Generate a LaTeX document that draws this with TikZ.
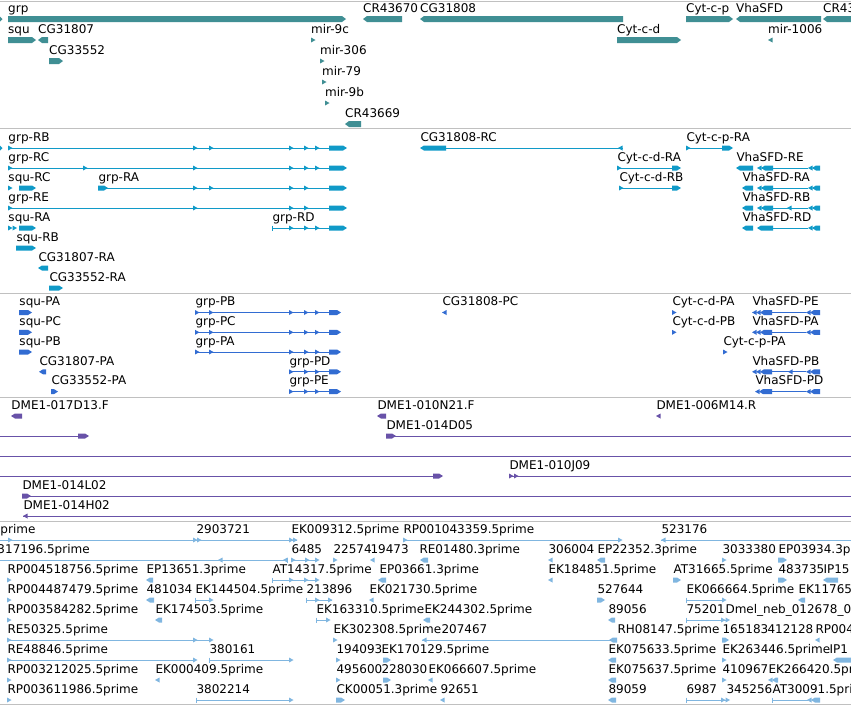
\documentclass[tikz,border=0pt]{standalone}
\usepackage{fontspec}
\setmainfont{DejaVu Sans}
\usepackage{tikz}
\definecolor{genecol}{RGB}{64,143,148}
\definecolor{txcol}{RGB}{16,154,200}
\definecolor{protcol}{RGB}{50,108,210}
\definecolor{clonecol}{RGB}{104,82,168}
\definecolor{estcol}{RGB}{128,182,224}
\definecolor{sepcol}{RGB}{192,192,192}
% feature glyphs: blocks with a tip, small arrows, start ticks
\newcommand{\fblk}[4][2.5]{\fill (#2,#4-#1) -- (#3-4,#4-#1) -- (#3,#4) -- (#3-4,#4+#1) -- (#2,#4+#1) -- cycle;}
\newcommand{\rblk}[4][2.5]{\fill (#2,#4) -- (#2+4,#4-#1) -- (#3,#4-#1) -- (#3,#4+#1) -- (#2+4,#4+#1) -- cycle;}
\newcommand{\ftri}[2]{\fill (#1,#2-2.5) -- (#1+4.5,#2) -- (#1,#2+2.5) -- cycle;}
\newcommand{\rtri}[2]{\fill (#1+4.5,#2-2.5) -- (#1,#2) -- (#1+4.5,#2+2.5) -- cycle;}
\newcommand{\stub}[2]{\draw (#1,#2-2.5) -- (#1,#2+2.5);}

\begin{document}
\begin{tikzpicture}[x=1pt, y=-1pt,
  lbl/.style={anchor=base west, inner sep=0pt, text=black, font=\fontsize{12}{14}\selectfont}]
			\useasboundingbox (0,0) rectangle (851,705);
			\fill[white] (0,0) rectangle (851,705);
			\clip (0,0) rectangle (851,705);

			% Track separators
			\draw[sepcol, line width=1pt] (0,1) -- (851,1);
			\draw[sepcol, line width=1pt] (0,128.5) -- (851,128.5);
			\draw[sepcol, line width=1pt] (0,293) -- (851,293);
			\draw[sepcol, line width=1pt] (0,397) -- (851,397);
			\draw[sepcol, line width=1pt] (0,521) -- (851,521);
			\draw[sepcol, line width=1pt] (0,704) -- (851,704);

			% Genes
			\begin{scope}[color=genecol]
			\fill (0,16.5) -- (2.5,19) -- (0,21.5) -- cycle;
			\fblk[3]{8}{346}{19} \node[lbl] (grp) at (8,12.2) {grp};
			\rblk[3]{363}{402}{19} \node[lbl] (cr43670) at (363,12.2) {CR43670};
			\rblk[3]{420}{623}{19} \node[lbl] (cg31808) at (420,12.2) {CG31808};
			\fblk[3]{686}{733}{19} \node[lbl] (cytcp) at (686,12.2) {Cyt-c-p};
			\rblk[3]{736}{821}{19} \node[lbl] (vhasfd) at (736,12.2) {VhaSFD};
			\rblk[3]{823}{860}{19} \node[lbl] (cr43) at (823,12.2) {CR43};
			\fblk[3]{8}{36}{40} \node[lbl] (squ) at (8,33.2) {squ};
			\rblk[3]{38}{48}{40} \node[lbl] (cg31807) at (38,33.2) {CG31807};
			\ftri{311}{40} \node[lbl] (mir9c) at (311,33.2) {mir-9c};
			\fblk[3]{617}{681}{40} \node[lbl] (cytcd) at (617,33.2) {Cyt-c-d};
			\rtri{768}{40} \node[lbl] (mir1006) at (768,33.2) {mir-1006};
			\fblk[3]{49}{63}{61} \node[lbl] (cg33552) at (49,54.2) {CG33552};
			\ftri{320}{61} \node[lbl] (mir306) at (320,54.2) {mir-306};
			\ftri{322}{82} \node[lbl] (mir79) at (322,75.2) {mir-79};
			\ftri{325}{103} \node[lbl] (mir9b) at (325,96.2) {mir-9b};
			\rblk[3]{345}{361}{124} \node[lbl] (cr43669) at (345,117.2) {CR43669};
			\end{scope}

			% Transcripts
			\begin{scope}[color=txcol, line width=1pt]
			\fill (0,145.5) -- (2.5,148) -- (0,150.5) -- cycle;
			\draw (8,148) -- (342,148); \ftri{8}{148} \ftri{193}{148} \ftri{209}{148} \ftri{289}{148} \ftri{304}{148} \ftri{315}{148} \fblk{329}{347}{148}
			\node[lbl] (grpRB) at (8,141.2) {grp-RB};
			\draw (446,148) -- (623,148); \rblk{420}{446}{148} \rtri{618}{148}
			\node[lbl] (cg31808RC) at (420,141.2) {CG31808-RC};
			\draw (686,148) -- (722,148); \ftri{686}{148} \fblk{722}{733}{148}
			\node[lbl] (cytcpRA) at (686,141.2) {Cyt-c-p-RA};
			\draw (8,168) -- (342,168); \ftri{8}{168} \ftri{83}{168} \ftri{193}{168} \ftri{289}{168} \ftri{304}{168} \ftri{315}{168} \fblk{329}{347}{168}
			\node[lbl] (grpRC) at (8,161.2) {grp-RC};
			\draw (617,168) -- (676,168); \ftri{617}{168} \fblk{672}{681}{168}
			\node[lbl] (cytcdRA) at (617,161.2) {Cyt-c-d-RA};
			\draw (773,168) -- (808,168); \rblk{736}{753}{168} \rtri{757}{168} \rblk{761}{773}{168} \rtri{808}{168} \rblk{812}{820}{168}
			\node[lbl] (vhasfdRE) at (736,161.2) {VhaSFD-RE};
			\ftri{8}{188} \fblk{19}{36}{188}
			\node[lbl] (squRC) at (8,181.2) {squ-RC};
			\draw (98,188) -- (342,188); \fblk{98}{108}{188} \ftri{193}{188} \ftri{209}{188} \ftri{289}{188} \ftri{304}{188} \fblk{329}{347}{188}
			\node[lbl] (grpRA) at (98,181.2) {grp-RA};
			\draw (619,188) -- (676,188); \ftri{619}{188} \fblk{672}{681}{188}
			\node[lbl] (cytcdRB) at (619,181.2) {Cyt-c-d-RB};
			\draw (773,188) -- (808,188); \rblk{742}{753}{188} \rtri{757}{188} \rblk{761}{773}{188} \rtri{808}{188} \rblk{812}{820}{188}
			\node[lbl] (vhasfdRA) at (742,181.2) {VhaSFD-RA};
			\draw (8,208) -- (342,208); \ftri{8}{208} \ftri{193}{208} \ftri{289}{208} \ftri{304}{208} \fblk{329}{347}{208}
			\node[lbl] (grpRE) at (8,201.2) {grp-RE};
			\draw (773,208) -- (808,208); \rblk{742}{753}{208} \rtri{757}{208} \rblk{761}{773}{208} \rtri{787}{208} \rtri{808}{208} \rblk{812}{820}{208}
			\node[lbl] (vhasfdRB) at (742,201.2) {VhaSFD-RB};
			\ftri{8}{228} \ftri{12.5}{228} \fblk{19}{36}{228}
			\node[lbl] (squRA) at (8,221.2) {squ-RA};
			\draw (272,228) -- (342,228); \stub{272}{228} \ftri{289}{228} \ftri{304}{228} \ftri{315}{228} \fblk{329}{347}{228}
			\node[lbl] (grpRD) at (272,221.2) {grp-RD};
			\draw (773,228) -- (808,228); \rblk{742}{753}{228} \rblk{757}{773}{228} \rtri{808}{228} \rblk{812}{820}{228}
			\node[lbl] (vhasfdRD) at (742,221.2) {VhaSFD-RD};
			\fblk{16}{36}{248} \node[lbl] (squRB) at (16,241.2) {squ-RB};
			\rblk{38}{48}{268} \node[lbl] (cg31807RA) at (38,261.2) {CG31807-RA};
			\fblk{49}{63}{288} \node[lbl] (cg33552RA) at (49,281.2) {CG33552-RA};
			\end{scope}

			% Proteins
			\begin{scope}[color=protcol, line width=1pt]
			\fblk{19}{32}{312.5} \node[lbl] (squPA) at (19,305.7) {squ-PA};
			\fblk{19}{32}{332.3} \node[lbl] (squPC) at (19,325.5) {squ-PC};
			\fblk{19}{32}{352} \node[lbl] (squPB) at (19,345.2) {squ-PB};
			\rblk{39}{46}{371.8} \node[lbl] (cg31807PA) at (39,365) {CG31807-PA};
			\fblk{51}{58}{391.6} \node[lbl] (cg33552PA) at (51,384.8) {CG33552-PA};
			\draw (195,312.5) -- (337,312.5); \ftri{195}{312.5} \ftri{209}{312.5} \ftri{289}{312.5} \ftri{304}{312.5} \ftri{315}{312.5} \fblk{329}{341}{312.5}
			\node[lbl] (grpPB) at (195,305.7) {grp-PB};
			\draw (195,332.3) -- (337,332.3); \ftri{195}{332.3} \ftri{209}{332.3} \ftri{289}{332.3} \ftri{304}{332.3} \ftri{315}{332.3} \fblk{329}{341}{332.3}
			\node[lbl] (grpPC) at (195,325.5) {grp-PC};
			\draw (195,352) -- (337,352); \ftri{195}{352} \ftri{209}{352} \ftri{289}{352} \ftri{304}{352} \ftri{315}{352} \fblk{329}{341}{352}
			\node[lbl] (grpPA) at (195,345.2) {grp-PA};
			\draw (289,371.8) -- (337,371.8); \ftri{289}{371.8} \ftri{304}{371.8} \ftri{315}{371.8} \fblk{329}{341}{371.8}
			\node[lbl] (grpPD) at (289,365) {grp-PD};
			\draw (289,391.6) -- (337,391.6); \ftri{289}{391.6} \ftri{304}{391.6} \ftri{315}{391.6} \fblk{329}{341}{391.6}
			\node[lbl] (grpPE) at (289,384.8) {grp-PE};
			\rtri{442}{312.5} \node[lbl] (cg31808PC) at (442,305.7) {CG31808-PC};
			\ftri{672}{312.5} \node[lbl] (cytcdPA) at (672,305.7) {Cyt-c-d-PA};
			\ftri{672}{332.3} \node[lbl] (cytcdPB) at (672,325.5) {Cyt-c-d-PB};
			\ftri{723}{352} \node[lbl] (cytcpPA) at (723,345.2) {Cyt-c-p-PA};
			\draw (772,312.5) -- (806,312.5); \rtri{752}{312.5} \rtri{756}{312.5} \rblk{760}{772}{312.5} \rtri{806}{312.5} \rblk{810}{820}{312.5}
			\node[lbl] (vhasfdPE) at (752,305.7) {VhaSFD-PE};
			\draw (772,332.3) -- (806,332.3); \rtri{752}{332.3} \rtri{756}{332.3} \rblk{760}{772}{332.3} \rtri{806}{332.3} \rblk{810}{820}{332.3}
			\node[lbl] (vhasfdPA) at (752,325.5) {VhaSFD-PA};
			\draw (772,371.8) -- (806,371.8); \rtri{752}{371.8} \rtri{756}{371.8} \rblk{760}{772}{371.8} \rtri{788}{371.8} \rtri{806}{371.8} \rblk{810}{820}{371.8}
			\node[lbl] (vhasfdPB) at (752,365) {VhaSFD-PB};
			\draw (772,391.6) -- (806,391.6); \rtri{755}{391.6} \rblk{759}{772}{391.6} \rtri{806}{391.6} \rblk{810}{820}{391.6}
			\node[lbl] (vhasfdPD) at (755,384.8) {VhaSFD-PD};
			\end{scope}

			% Clone ends
			\begin{scope}[color=clonecol, line width=1pt]
			\rblk{11}{22}{416} \node[lbl] (d017d13) at (11,409.2) {DME1-017D13.F};
			\rblk{377}{386}{416} \node[lbl] (d010n21) at (377,409.2) {DME1-010N21.F};
			\rtri{656}{416} \node[lbl] (d006m14) at (656,409.2) {DME1-006M14.R};
			\draw (0,436) -- (80,436); \fblk{78}{89}{436}
			\draw (393,436) -- (851,436); \fblk{386}{396}{436}
			\node[lbl] (d014d05) at (386,429.2) {DME1-014D05};
			\draw (0,456) -- (851,456);
			\draw (0,476) -- (435,476); \fblk{433}{443}{476}
			\draw (509,476) -- (851,476); \ftri{509}{476} \ftri{514}{476}
			\node[lbl] (d010j09) at (509,469.2) {DME1-010J09};
			\draw (22,496) -- (851,496); \fblk{22}{31}{496}
			\node[lbl] (d014l02) at (22,489.2) {DME1-014L02};
			\draw (23,516) -- (851,516); \rtri{23}{516}
			\node[lbl] (d014h02) at (23,509.2) {DME1-014H02};
			\end{scope}

			% ESTs
			\begin{scope}[color=estcol, line width=1pt]
			\draw (0,540) -- (297,540); \ftri{8}{540} \ftri{193}{540} \ftri{197}{540} \ftri{289}{540} \ftri{293}{540}
			\node[lbl] (e1prime) at (0,533.2) {prime};
			\node[lbl] (e2903721) at (196,533.2) {2903721};
			\node[lbl] (ek009312) at (291,533.2) {EK009312.5prime};
			\draw (403,540) -- (620,540); \ftri{403}{540} \ftri{618}{540}
			\node[lbl] (rp001043359) at (403,533.2) {RP001043359.5prime};
			\draw (661,540) -- (851,540); \rtri{661}{540}
			\node[lbl] (e523176) at (661,533.2) {523176};

			\draw (0,560) -- (287,560); \rtri{218}{560} \rtri{283}{560} \stub{287}{560}
			\node[lbl] (e317196) at (-3,553.2) {317196.5prime};
			\draw (291,560) -- (318,560); \ftri{291}{560} \ftri{305}{560} \ftri{315}{560}
			\node[lbl] (e6485) at (291,553.2) {6485};
			\ftri{333}{560} \node[lbl] (e22574) at (333,553.2) {22574};
			\rtri{370}{560} \node[lbl] (e19473) at (370,553.2) {19473};
			\rblk{420}{428}{560} \node[lbl] (re01480) at (419,553.2) {RE01480.3prime};
			\rtri{548}{560} \node[lbl] (e306004) at (548,553.2) {306004};
			\rblk{597}{605}{560} \node[lbl] (ep22352) at (597,553.2) {EP22352.3prime};
			\ftri{722}{560} \node[lbl] (e3033380) at (722,553.2) {3033380};
			\fblk{778}{787}{560} \node[lbl] (ep03934) at (778,553.2) {EP03934.3prime};

			\ftri{7}{580} \node[lbl] (rp004518756) at (7,573.2) {RP004518756.5prime};
			\rblk{146}{153}{580} \node[lbl] (ep13651) at (146,573.2) {EP13651.3prime};
			\draw (272,580) -- (318,580); \stub{272}{580} \ftri{289}{580} \ftri{304}{580} \ftri{315}{580}
			\node[lbl] (at14317) at (272,573.2) {AT14317.5prime};
			\rblk{378}{386}{580} \node[lbl] (ep03661) at (379,573.2) {EP03661.3prime};
			\rtri{548}{580} \node[lbl] (ek184851) at (548,573.2) {EK184851.5prime};
			\fblk{673}{681}{580} \node[lbl] (at31665) at (673,573.2) {AT31665.5prime};
			\fblk{778}{787}{580} \node[lbl] (e483735) at (778,573.2) {483735};
			\rblk{823}{838}{580} \node[lbl] (ip15) at (823,573.2) {IP15};

			\ftri{7}{600} \node[lbl] (rp004487479) at (7,593.2) {RP004487479.5prime};
			\rblk{146}{154}{600} \node[lbl] (e481034) at (146,593.2) {481034};
			\draw (195,600) -- (212,600); \stub{195}{600} \ftri{209}{600}
			\node[lbl] (ek144504) at (195,593.2) {EK144504.5prime};
			\draw (306,600) -- (332,600); \stub{306}{600} \ftri{315}{600} \ftri{328}{600}
			\node[lbl] (e213896) at (306,593.2) {213896};
			\rtri{369}{600} \node[lbl] (ek021730) at (369,593.2) {EK021730.5prime};
			\fblk{597}{605}{600} \node[lbl] (e527644) at (597,593.2) {527644};
			\draw (686,600) -- (724,600); \stub{686}{600} \ftri{722}{600}
			\node[lbl] (ek066664) at (686,593.2) {EK066664.5prime};
			\rblk{798}{805}{600} \node[lbl] (ek11765) at (798,593.2) {EK11765};

			\ftri{7}{620} \node[lbl] (rp003584282) at (7,613.2) {RP003584282.5prime};
			\rblk{155}{162}{620} \node[lbl] (ek174503) at (155,613.2) {EK174503.5prime};
			\draw (316,620) -- (328,620); \stub{316}{620} \ftri{326}{620}
			\node[lbl] (ek163310) at (316,613.2) {EK163310.5prime};
			\rblk{423}{430}{620} \node[lbl] (ek244302) at (424,613.2) {EK244302.5prime};
			\rblk{608}{615}{620} \node[lbl] (e89056) at (608,613.2) {89056};
			\draw (686,620) -- (726,620); \stub{686}{620} \ftri{721}{620} \ftri{725.5}{620}
			\node[lbl] (e75201) at (686,613.2) {75201};
			\node[lbl] (dmelneb) at (725,613.2) {Dmel\_neb\_012678\_0};

			\draw (7,640) -- (212,640); \ftri{7}{640} \ftri{193}{640} \ftri{209}{640}
			\node[lbl] (re50325) at (7,633.2) {RE50325.5prime};
			\ftri{333}{640} \node[lbl] (ek302308) at (333,633.2) {EK302308.5prime};
			\draw (422,640) -- (612,640); \rtri{422}{640}
			\node[lbl] (e207467) at (441,633.2) {207467};
			\rblk{609}{617}{640} \node[lbl] (rh08147) at (617,633.2) {RH08147.5prime};
			\fblk{722}{729}{640} \node[lbl] (e165183) at (722,633.2) {165183};
			\node[lbl] (e412128) at (767,633.2) {412128};
			\rtri{815}{640} \node[lbl] (rp004) at (815,633.2) {RP004};

			\draw (7,660) -- (196,660); \ftri{7}{660} \ftri{193}{660}
			\node[lbl] (re48846) at (7,653.2) {RE48846.5prime};
			\draw (209,660) -- (292,660); \stub{209}{660} \ftri{289}{660}
			\node[lbl] (e380161) at (209,653.2) {380161};
			\ftri{336}{660} \node[lbl] (e194093) at (336,653.2) {194093};
			\fblk{383}{391}{660} \node[lbl] (ek170129) at (381,653.2) {EK170129.5prime};
			\rblk{608}{616}{660} \node[lbl] (ek075633) at (608,653.2) {EK075633.5prime};
			\ftri{722}{660} \node[lbl] (ek263446) at (722,653.2) {EK263446.5prime};
			\rblk{833}{855}{660} \node[lbl] (ip1) at (829,653.2) {IP1};

			\ftri{7}{680} \node[lbl] (rp003212025) at (7,673.2) {RP003212025.5prime};
			\rtri{155}{680} \node[lbl] (ek000409) at (155,673.2) {EK000409.5prime};
			\ftri{336}{680} \node[lbl] (e495600) at (336,673.2) {495600};
			\fblk{383}{391}{680} \node[lbl] (e228030) at (381,673.2) {228030};
			\rtri{428}{680} \node[lbl] (ek066607) at (428,673.2) {EK066607.5prime};
			\rblk{608}{616}{680} \node[lbl] (ek075637) at (608,673.2) {EK075637.5prime};
			\ftri{722}{680} \node[lbl] (e410967) at (722,673.2) {410967};
			\rtri{768}{680} \rblk{772}{778}{680} \node[lbl] (ek266420) at (768,673.2) {EK266420.5prime};

			\ftri{7}{700} \node[lbl] (rp003611986) at (7,693.2) {RP003611986.5prime};
			\draw (196,700) -- (292,700); \stub{196}{700} \ftri{289}{700}
			\node[lbl] (e3802214) at (196,693.2) {3802214};
			\fblk{336}{345}{700} \node[lbl] (ck00051) at (336,693.2) {CK00051.3prime};
			\rtri{440}{700} \node[lbl] (e92651) at (440,693.2) {92651};
			\rblk{608}{616}{700} \node[lbl] (e89059) at (608,693.2) {89059};
			\draw (686,700) -- (726,700); \stub{686}{700} \ftri{721}{700} \ftri{725.5}{700}
			\node[lbl] (e6987) at (686,693.2) {6987};
			\node[lbl] (e345256) at (726,693.2) {345256};
			\draw (772,700) -- (808,700); \stub{772}{700} \rtri{807}{700} \rblk{811}{820}{700}
			\node[lbl] (at30091) at (772,693.2) {AT30091.5prime};
			\end{scope}
		\end{tikzpicture}
\end{document}
